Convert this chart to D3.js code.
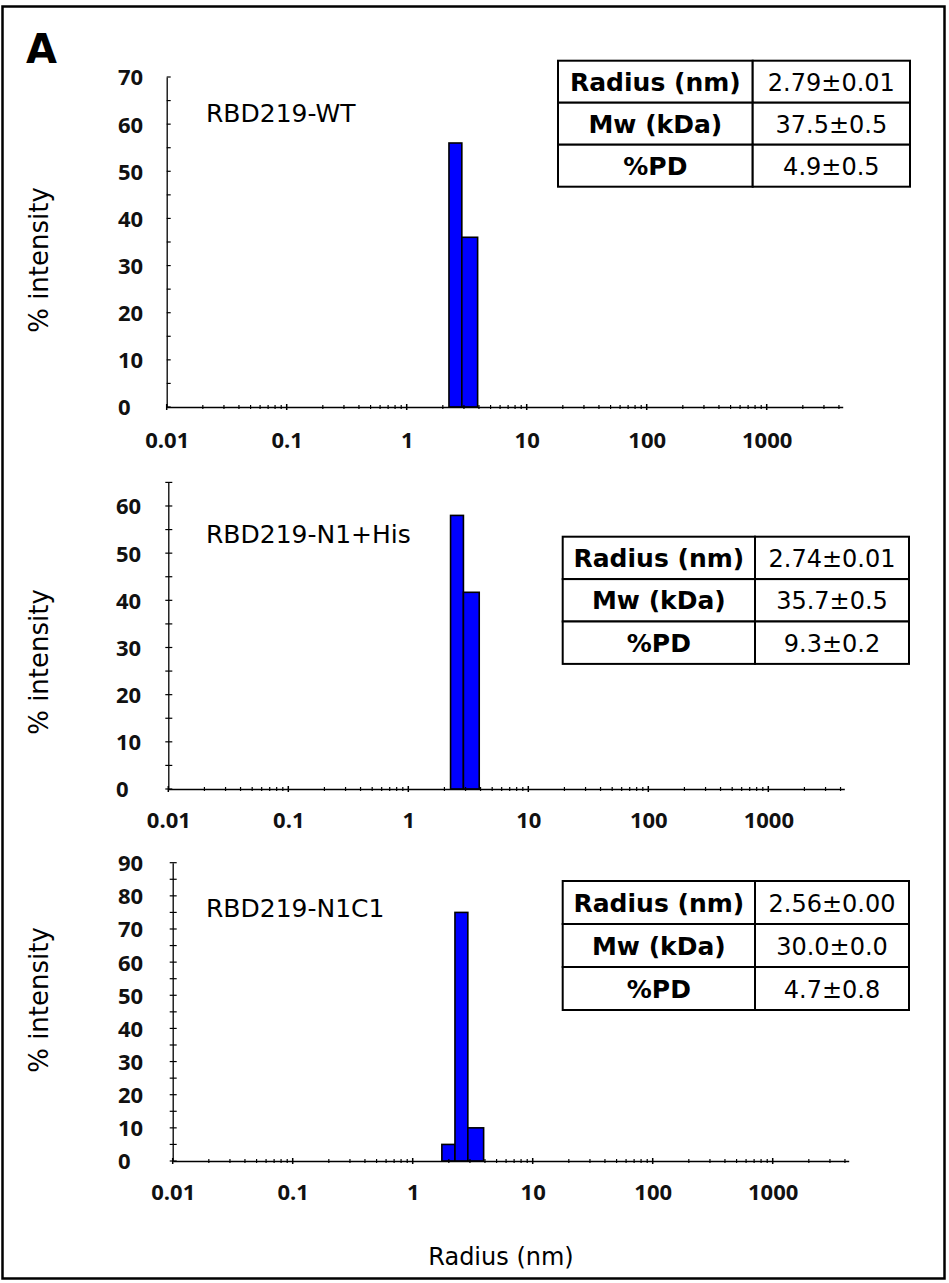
<!DOCTYPE html>
<html><head><meta charset="utf-8">
<script src="https://cdn.jsdelivr.net/npm/d3@7"></script>
<style>body{margin:0;background:#fff} svg{display:block}</style>
</head><body>
<svg id="c" width="949" height="1283"></svg>
<script>
// ---------- data ----------
const panelLetter = "A";
const sampleNames = ["RBD219-WT", "RBD219-N1+His", "RBD219-N1C1"];
const binEdges = [1.75, 2.25, 2.88, 3.9];          // radius bin edges (nm)
const intensityWT = [0, 56, 36];
const intensityN1His = [0, 58, 41.7];
const intensityN1C1 = [5, 75, 10];
const yMaxes = [70, 65, 90];
const xMin = 0.01, xMax = 4300;
const xMajorTicks = [0.01, 0.1, 1, 10, 100, 1000];
const xTickLabels = ["0.01", "0.1", "1", "10", "100", "1000"];
const tableRowLabels = ["Radius (nm)", "Mw (kDa)", "%PD"];
const tableWT = ["2.79±0.01", "37.5±0.5", "4.9±0.5"];
const tableN1His = ["2.74±0.01", "35.7±0.5", "9.3±0.2"];
const tableN1C1 = ["2.56±0.00", "30.0±0.0", "4.7±0.8"];
const yAxisTitle = "% intensity";
const xAxisTitle = "Radius (nm)";

const intensities = [intensityWT, intensityN1His, intensityN1C1];
const tables = [tableWT, tableN1His, tableN1C1];

// ---------- layout ----------
const layouts = [
  {x0:166.7, yTop:77,    yBase:407,  ticksIn:true,  titleY:122, yLabX:118, tbl:{x:558,   y:60.7, c1:194.7, c2:157.3, h:42}, xLabY:448,  yTitleY:260},
  {x0:168.3, yTop:482.4, yBase:789,  ticksIn:false, titleY:543, yLabX:116, tbl:{x:562.7, y:536.7,c1:192.3, c2:154,   h:42.4}, xLabY:828, yTitleY:662},
  {x0:172.7, yTop:862.7, yBase:1161, ticksIn:false, titleY:917, yLabX:118, tbl:{x:562.7, y:881,  c1:192.3, c2:154,   h:43}, xLabY:1200, yTitleY:1000}
];
const pxPerDecade = 120;
const FONT = "'DejaVu Sans', sans-serif";
const TICKFONT = "'Open Sans', sans-serif";

const svg = d3.select("#c");
svg.append("rect").attr("x",2.5).attr("y",6.5).attr("width",942).attr("height",1272)
  .attr("fill","none").attr("stroke","#000").attr("stroke-width",2.5);

svg.append("text").attr("x",26).attr("y",63).text(panelLetter)
  .attr("font-family",FONT).attr("font-weight","bold").attr("font-size",40);

// minor tick values
const xMinor = [];
for (let d = 0.01; d <= 1000.5; d *= 10) {
  for (let k = 2; k <= 9; k++) { const v = +(k*d).toPrecision(3); if (v <= xMax) xMinor.push(v); }
}

layouts.forEach((L, i) => {
  const g = svg.append("g");
  const x = d3.scaleLog().domain([xMin, xMax])
    .range([L.x0, L.x0 + pxPerDecade*Math.log10(xMax/xMin)]);
  const y = d3.scaleLinear().domain([0, yMaxes[i]]).range([L.yBase, L.yTop]);

  // bars
  const bars = intensities[i].map((v, j) => ({x0: binEdges[j], x1: binEdges[j+1], v}))
    .filter(b => b.v > 0);
  g.selectAll("rect.bar").data(bars).join("rect").attr("class","bar")
    .attr("x", b => x(b.x0)).attr("width", b => x(b.x1) - x(b.x0))
    .attr("y", b => y(b.v)).attr("height", b => y(0) - y(b.v))
    .attr("fill","#0000ff").attr("stroke","#000").attr("stroke-width",1.6);

  // y axis
  const yAx = d3.axisLeft(y).tickValues(d3.range(0, yMaxes[i]+0.1, 10))
    .tickSize(0).tickPadding(0).tickFormat(d3.format("d"));
  const ya = g.append("g").attr("transform", `translate(${L.x0},0)`).call(yAx);
  ya.select(".domain").attr("stroke","#000").attr("stroke-width",1.3);
  ya.selectAll("text").attr("x", L.yLabX - L.x0).attr("dy","0.36em").attr("text-anchor","start")
    .attr("font-family",TICKFONT).attr("font-weight","bold").attr("font-size",22).attr("fill","#111");
  g.selectAll("line.yt").data(d3.range(0, yMaxes[i]+0.1, 5)).join("line").attr("class","yt")
    .attr("x1", L.ticksIn ? L.x0 : L.x0 - 3).attr("x2", L.x0 + 4)
    .attr("y1", d => y(d)).attr("y2", d => y(d)).attr("stroke","#000").attr("stroke-width",1.2);

  // x axis
  const xAx = d3.axisBottom(x).tickValues(xMajorTicks).tickSize(0).tickPadding(0)
    .tickFormat((d, k) => xTickLabels[k]);
  const xa = g.append("g").attr("transform", `translate(0,${L.yBase})`).call(xAx);
  xa.select(".domain").attr("stroke","#000").attr("stroke-width",1.3);
  xa.selectAll("text").attr("y", L.xLabY - L.yBase).attr("dy", 0)
    .attr("font-family",TICKFONT).attr("font-weight","bold").attr("font-size",22).attr("fill","#111");
  g.selectAll("line.xmaj").data(xMajorTicks).join("line").attr("class","xmaj")
    .attr("x1", d => x(d)).attr("x2", d => x(d)).attr("y1", L.yBase - 3).attr("y2", L.yBase + 3)
    .attr("stroke","#000").attr("stroke-width",1.5);
  g.selectAll("line.xmin").data(xMinor).join("line").attr("class","xmin")
    .attr("x1", d => x(d)).attr("x2", d => x(d)).attr("y1", L.yBase - 2).attr("y2", L.yBase + 2)
    .attr("stroke","#000").attr("stroke-width",1.2);

  // sample name
  g.append("text").attr("x", 206).attr("y", L.titleY).text(sampleNames[i])
    .attr("font-family",FONT).attr("font-size",25).attr("fill","#000");

  // y title
  g.append("text").attr("transform", `translate(48,${L.yTitleY}) rotate(-90)`)
    .attr("text-anchor","middle").text(yAxisTitle)
    .attr("font-family",FONT).attr("font-size",26).attr("fill","#000");

  // table
  const T = L.tbl;
  const tg = g.append("g");
  tableRowLabels.forEach((lab, r) => {
    const ry = T.y + r*T.h;
    tg.append("rect").attr("x",T.x).attr("y",ry).attr("width",T.c1).attr("height",T.h)
      .attr("fill","#fff").attr("stroke","#000").attr("stroke-width",2);
    tg.append("rect").attr("x",T.x+T.c1).attr("y",ry).attr("width",T.c2).attr("height",T.h)
      .attr("fill","#fff").attr("stroke","#000").attr("stroke-width",2);
    tg.append("text").attr("x",T.x+T.c1/2).attr("y",ry+T.h/2+9).attr("text-anchor","middle")
      .text(lab).attr("font-family",FONT).attr("font-weight","bold").attr("font-size",25);
    tg.append("text").attr("x",T.x+T.c1+T.c2/2).attr("y",ry+T.h/2+9).attr("text-anchor","middle")
      .text(tables[i][r]).attr("font-family",FONT).attr("font-size",24);
  });
});

svg.append("text").attr("x",501).attr("y",1265).attr("text-anchor","middle").text(xAxisTitle)
  .attr("font-family",FONT).attr("font-size",24).attr("fill","#000");
</script>
</body></html>
